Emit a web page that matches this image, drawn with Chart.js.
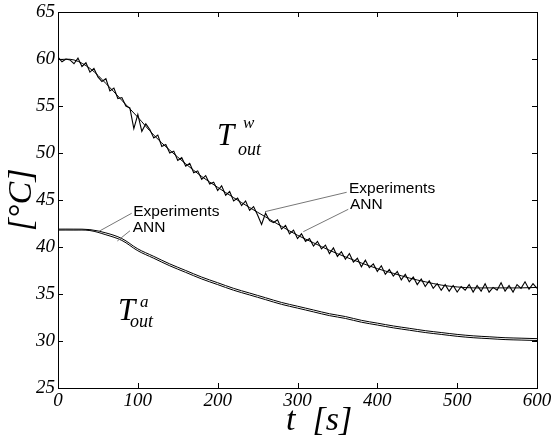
<!DOCTYPE html>
<html>
<head>
<meta charset="utf-8">
<script src="https://cdn.jsdelivr.net/npm/chart.js@4.4.1/dist/chart.umd.min.js"></script>
<style>
  html, body { margin: 0; padding: 0; background: #fff; }
</style>
</head>
<body>
<canvas id="chart" width="554" height="438"></canvas>
<script>
// Tick labels
const xTicks = [0, 100, 200, 300, 400, 500, 600];
const yTicks = [25, 30, 35, 40, 45, 50, 55, 60, 65];

// Measured water outlet temperature (every 5 s)
const tFine = [
    0, 5, 10, 15, 20, 25, 30, 35, 40, 45, 50, 55, 60, 65, 70, 75, 80, 85, 90, 95,
    100, 105, 110, 115, 120, 125, 130, 135, 140, 145, 150, 155, 160, 165, 170, 175, 180, 185, 190, 195,
    200, 205, 210, 215, 220, 225, 230, 235, 240, 245, 250, 255, 260, 265, 270, 275, 280, 285, 290, 295,
    300, 305, 310, 315, 320, 325, 330, 335, 340, 345, 350, 355, 360, 365, 370, 375, 380, 385, 390, 395,
    400, 405, 410, 415, 420, 425, 430, 435, 440, 445, 450, 455, 460, 465, 470, 475, 480, 485, 490, 495,
    500, 505, 510, 515, 520, 525, 530, 535, 540, 545, 550, 555, 560, 565, 570, 575, 580, 585, 590, 595,
    600
];
const expWater = [
    60.2, 59.7, 60.0, 59.9, 59.5, 60.1, 59.2, 59.6, 58.6, 59.0, 58.1, 57.6, 57.9, 56.6, 56.9, 55.8, 55.9, 55.0, 54.8, 52.6,
    54.1, 52.3, 53.1, 52.5, 51.6, 51.9, 50.7, 50.9, 50.0, 50.2, 49.2, 49.5, 48.6, 48.9, 47.9, 48.1, 47.2, 47.6, 46.7, 46.9,
    46.0, 46.5, 45.5, 45.9, 44.9, 45.2, 44.4, 44.9, 43.9, 44.3, 43.4, 42.4, 43.6, 42.8, 42.6, 42.9, 41.9, 42.3, 41.4, 41.8,
    40.9, 41.4, 40.6, 40.9, 40.1, 40.6, 39.8, 40.2, 39.3, 39.9, 39.0, 39.5, 38.7, 39.3, 38.4, 38.8, 37.9, 38.6, 37.8, 38.2,
    37.4, 38.0, 37.1, 37.6, 36.9, 37.4, 36.5, 37.1, 36.3, 36.8, 36.0, 36.6, 35.8, 36.4, 35.6, 36.1, 35.4, 36.0, 35.3, 35.9,
    35.2, 35.8, 35.4, 36.0, 35.2, 35.9, 35.3, 36.1, 35.2, 35.7, 35.4, 36.2, 35.3, 35.9, 35.2, 36.0, 35.6, 36.3, 35.5, 36.1,
    35.6
];

// Smooth curves (every 20 s)
const tCoarse = [0, 20, 40, 60, 80, 100, 120, 140, 160, 180, 200, 220, 240, 260, 280, 300,
    320, 340, 360, 380, 400, 420, 440, 460, 480, 500, 520, 540, 560, 580, 600];
const annWater = [59.95, 59.9, 59.0, 57.4, 55.6, 53.8, 51.9, 50.3, 48.85, 47.5, 46.35, 45.25, 44.2, 43.2, 42.2, 41.25,
    40.45, 39.65, 38.95, 38.3, 37.7, 37.2, 36.7, 36.3, 35.95, 35.75, 35.65, 35.65, 35.65, 35.65, 35.7];
const expAir = [41.9, 41.9, 41.85, 41.5, 40.9, 39.8, 39.0, 38.2, 37.5, 36.8, 36.2, 35.6, 35.1, 34.6, 34.1, 33.7,
    33.3, 32.9, 32.6, 32.2, 31.9, 31.6, 31.35, 31.1, 30.9, 30.7, 30.55, 30.45, 30.35, 30.3, 30.25];
const annAir = [41.8, 41.8, 41.75, 41.3, 40.7, 39.6, 38.8, 38.0, 37.3, 36.6, 36.0, 35.4, 34.9, 34.4, 33.9, 33.5,
    33.1, 32.7, 32.4, 32.0, 31.7, 31.4, 31.15, 30.9, 30.7, 30.5, 30.35, 30.25, 30.15, 30.1, 30.05];

const toPoints = (ts, vs) => ts.map((t, i) => ({ x: t, y: vs[i] }));

const serif = "'Liberation Serif', 'Times New Roman', serif";
const sans = "'Liberation Sans', Arial, sans-serif";

// Annotation anchors, in data units
const notes = [
    { text: 'Experiments', at: [364.5, 45.78], from: [361.6, 45.82], to: [259.3, 43.76] },
    { text: 'ANN', at: [365.8, 44.01], from: [363.6, 44.01], to: [307.3, 41.63] },
    { text: 'Experiments', at: [94.3, 43.33], from: [92.3, 43.59], to: [50.5, 41.63] },
    { text: 'ANN', at: [93.6, 41.56], from: [90.2, 41.73], to: [74.3, 40.64] }
];
const symbols = [
    { sup: 'w', base: [199.2, 50.85], supAt: [231.7, 52.66], subAt: [225.5, 49.79] },
    { sup: 'a', base: [75.2, 32.23], supAt: [102.7, 33.61], subAt: [90.2, 31.45] }
];

const framePlugin = {
    id: 'framePlugin',
    afterDraw(chart) {
        const { ctx, chartArea: a, scales: { x, y } } = chart;
        ctx.save();
        ctx.strokeStyle = '#000';
        ctx.lineWidth = 1;
        ctx.strokeRect(a.left + 0.5, a.top + 0.5, a.right - a.left, a.bottom - a.top);

        // inward tick marks on all four sides
        const len = 5;
        ctx.beginPath();
        xTicks.forEach(v => {
            const px = Math.round(x.getPixelForValue(v)) + 0.5;
            ctx.moveTo(px, a.bottom); ctx.lineTo(px, a.bottom - len);
            ctx.moveTo(px, a.top); ctx.lineTo(px, a.top + len);
        });
        yTicks.forEach(v => {
            const py = Math.round(y.getPixelForValue(v)) + 0.5;
            ctx.moveTo(a.left, py); ctx.lineTo(a.left + len, py);
            ctx.moveTo(a.right, py); ctx.lineTo(a.right - len, py);
        });
        ctx.stroke();

        // leader lines and labels
        ctx.strokeStyle = '#777';
        ctx.beginPath();
        notes.forEach(n => {
            ctx.moveTo(x.getPixelForValue(n.from[0]), y.getPixelForValue(n.from[1]));
            ctx.lineTo(x.getPixelForValue(n.to[0]), y.getPixelForValue(n.to[1]));
        });
        ctx.stroke();

        ctx.fillStyle = '#000';
        ctx.textBaseline = 'alphabetic';
        ctx.textAlign = 'left';
        ctx.font = `15.5px ${sans}`;
        notes.forEach(n => {
            ctx.fillText(n.text, x.getPixelForValue(n.at[0]), y.getPixelForValue(n.at[1]));
        });

        symbols.forEach(s => {
            ctx.font = `italic 31px ${serif}`;
            ctx.fillText('T', x.getPixelForValue(s.base[0]), y.getPixelForValue(s.base[1]));
            ctx.font = `italic 18px ${serif}`;
            ctx.fillText('out', x.getPixelForValue(s.subAt[0]), y.getPixelForValue(s.subAt[1]));
            ctx.font = `italic 17px ${serif}`;
            ctx.fillText(s.sup, x.getPixelForValue(s.supAt[0]), y.getPixelForValue(s.supAt[1]));
        });

        // x axis title, drawn under the axis a little right of centre
        ctx.font = `italic 34px ${serif}`;
        ctx.textBaseline = 'alphabetic';
        ctx.fillText('t  [s]', 286, 430);
        ctx.restore();
    }
};

const lineStyle = (width, tension) => ({
    borderColor: '#000',
    borderWidth: width,
    pointRadius: 0,
    fill: false,
    tension
});

new Chart(document.getElementById('chart'), {
    type: 'line',
    data: {
        datasets: [
            { label: 'Experiments Tw', data: toPoints(tFine, expWater), ...lineStyle(1.1, 0) },
            { label: 'ANN Tw', data: toPoints(tCoarse, annWater), ...lineStyle(1, 0.35) },
            { label: 'Experiments Ta', data: toPoints(tCoarse, expAir), ...lineStyle(1, 0.35) },
            { label: 'ANN Ta', data: toPoints(tCoarse, annAir), ...lineStyle(1, 0.35) }
        ]
    },
    options: {
        responsive: false,
        animation: false,
        devicePixelRatio: 1,
        layout: { padding: { top: 12, right: 17, left: 0, bottom: 0 } },
        plugins: {
            legend: { display: false },
            tooltip: { enabled: false }
        },
        scales: {
            x: {
                type: 'linear',
                min: 0,
                max: 600,
                grid: { display: false, drawTicks: false },
                border: { display: false },
                afterBuildTicks: s => { s.ticks = xTicks.map(v => ({ value: v })); },
                afterFit: s => { s.height = 50; s.paddingLeft = 0; s.paddingRight = 0; },
                ticks: {
                    color: '#000',
                    padding: 2,
                    maxRotation: 0,
                    font: { family: serif, style: 'italic', size: 19 }
                }
            },
            y: {
                min: 25,
                max: 65,
                grid: { display: false, drawTicks: false },
                border: { display: false },
                afterBuildTicks: s => { s.ticks = yTicks.map(v => ({ value: v })); },
                afterFit: s => { s.width = 58; s.paddingTop = 0; s.paddingBottom = 0; },
                ticks: {
                    color: '#000',
                    padding: 3,
                    font: { family: serif, style: 'italic', size: 19 }
                },
                title: {
                    display: true,
                    text: '[°C]',
                    color: '#000',
                    padding: { top: 5 },
                    font: { family: serif, style: 'italic', size: 34, lineHeight: 1 }
                }
            }
        }
    },
    plugins: [framePlugin]
});
</script>
</body>
</html>
